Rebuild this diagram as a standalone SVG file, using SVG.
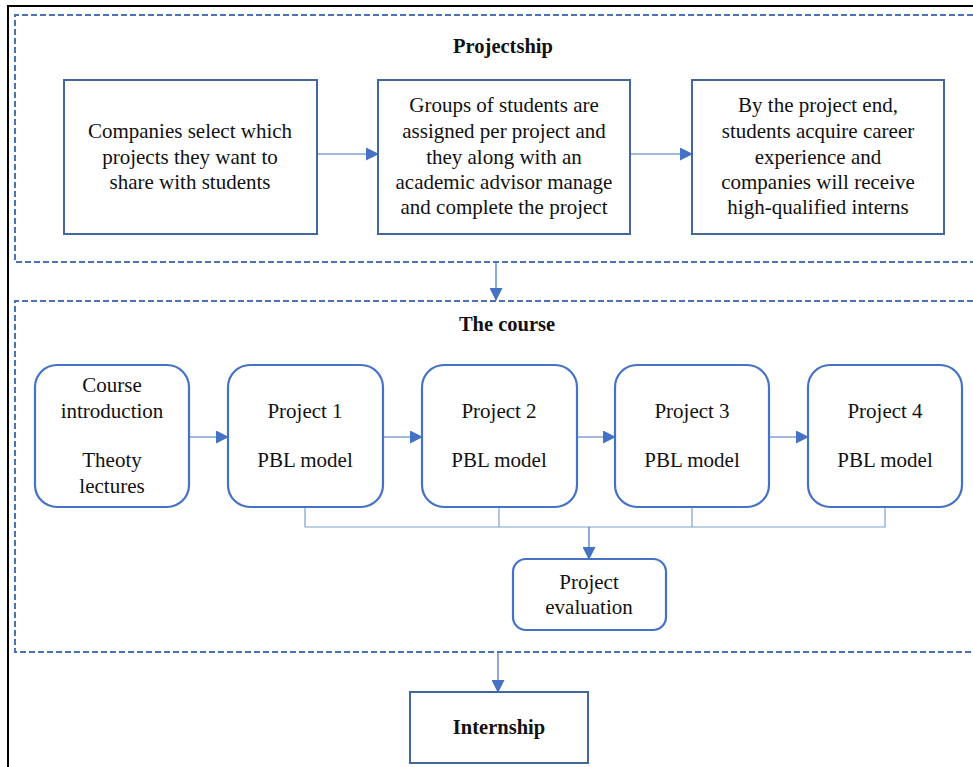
<svg xmlns="http://www.w3.org/2000/svg" width="973" height="767" viewBox="0 0 973 767">
<defs>
<style>
.t{font-family:"Liberation Serif","Times New Roman",serif;font-size:21px;fill:#111;text-anchor:middle}
.b{font-weight:bold;font-size:20.5px}
.sq{fill:#fff;stroke:#41679c;stroke-width:2}
.rd{fill:#fff;stroke:#4472c4;stroke-width:2.2}
.dash{fill:none;stroke:#4a72b5;stroke-width:2;stroke-dasharray:6 3}
.ln{fill:none;stroke:#4472c4;stroke-width:1.2}
.thin{fill:none;stroke:#7f9fd1;stroke-width:1.2}
</style>
<marker id="ah" markerWidth="13" markerHeight="13" refX="12" refY="6.5" orient="auto" markerUnits="userSpaceOnUse">
<path d="M0,0 L13,6.5 L0,13 Z" fill="#4472c4"/>
</marker>
</defs>
<rect width="973" height="767" fill="#fff"/>
<path d="M8,767 V6 H973" fill="none" stroke="#000" stroke-width="2"/>
<g id="projectship-frame">
<path class="dash" d="M973,15 H15 V262 H973"/>
<text class="t b" x="503" y="53">Projectship</text>
</g>
<g id="course-frame">
<path class="dash" d="M973,301 H15 V652 H973"/>
<text class="t b" x="507" y="331">The course</text>
</g>
<g id="connectors">
<line class="ln" x1="317" y1="154" x2="378" y2="154" marker-end="url(#ah)"/>
<line class="ln" x1="630" y1="154" x2="692" y2="154" marker-end="url(#ah)"/>
<line class="ln" x1="496" y1="262" x2="496" y2="300" marker-end="url(#ah)"/>
<line class="ln" x1="189" y1="437" x2="228" y2="437" marker-end="url(#ah)"/>
<line class="ln" x1="383" y1="437" x2="422" y2="437" marker-end="url(#ah)"/>
<line class="ln" x1="577" y1="437" x2="615" y2="437" marker-end="url(#ah)"/>
<line class="ln" x1="769" y1="437" x2="808" y2="437" marker-end="url(#ah)"/>
<path class="thin" d="M305,507 V527 H885 V507 M499,507 V527 M692,507 V527"/>
<line class="ln" x1="589" y1="527" x2="589" y2="559" marker-end="url(#ah)"/>
<line class="ln" x1="498" y1="652" x2="498" y2="692" marker-end="url(#ah)"/>
</g>
<g id="companies-select">
<rect class="sq" x="64" y="80" width="253" height="154"/>
<text class="t" x="190" y="138">Companies select which</text>
<text class="t" x="190" y="164">projects they want to</text>
<text class="t" x="190" y="189">share with students</text>
</g>
<g id="groups-assigned">
<rect class="sq" x="378" y="80" width="252" height="154"/>
<text class="t" x="504" y="112">Groups of students are</text>
<text class="t" x="504" y="138">assigned per project and</text>
<text class="t" x="504" y="164">they along with an</text>
<text class="t" x="504" y="189">academic advisor manage</text>
<text class="t" x="504" y="214">and complete the project</text>
</g>
<g id="project-end">
<rect class="sq" x="692" y="80" width="252" height="154"/>
<text class="t" x="818" y="112">By the project end,</text>
<text class="t" x="818" y="138">students acquire career</text>
<text class="t" x="818" y="164">experience and</text>
<text class="t" x="818" y="189">companies will receive</text>
<text class="t" x="818" y="214">high-qualified interns</text>
</g>
<g id="course-intro">
<rect class="rd" x="35" y="365" width="154" height="142" rx="22"/>
<text class="t" x="112" y="392">Course</text>
<text class="t" x="112" y="418">introduction</text>
<text class="t" x="112" y="467">Theoty</text>
<text class="t" x="112" y="493">lectures</text>
</g>
<g id="project-1">
<rect class="rd" x="228" y="365" width="155" height="142" rx="22"/>
<text class="t" x="305" y="418">Project 1</text>
<text class="t" x="305" y="467">PBL model</text>
</g>
<g id="project-2">
<rect class="rd" x="422" y="365" width="155" height="142" rx="22"/>
<text class="t" x="499" y="418">Project 2</text>
<text class="t" x="499" y="467">PBL model</text>
</g>
<g id="project-3">
<rect class="rd" x="615" y="365" width="154" height="142" rx="22"/>
<text class="t" x="692" y="418">Project 3</text>
<text class="t" x="692" y="467">PBL model</text>
</g>
<g id="project-4">
<rect class="rd" x="808" y="365" width="154" height="142" rx="22"/>
<text class="t" x="885" y="418">Project 4</text>
<text class="t" x="885" y="467">PBL model</text>
</g>
<g id="project-evaluation">
<rect class="rd" x="513" y="559" width="153" height="71" rx="13"/>
<text class="t" x="589" y="589">Project</text>
<text class="t" x="589" y="614">evaluation</text>
</g>
<g id="internship">
<rect class="sq" x="410" y="692" width="178" height="71"/>
<text class="t b" x="499" y="734">Internship</text>
</g>
</svg>
